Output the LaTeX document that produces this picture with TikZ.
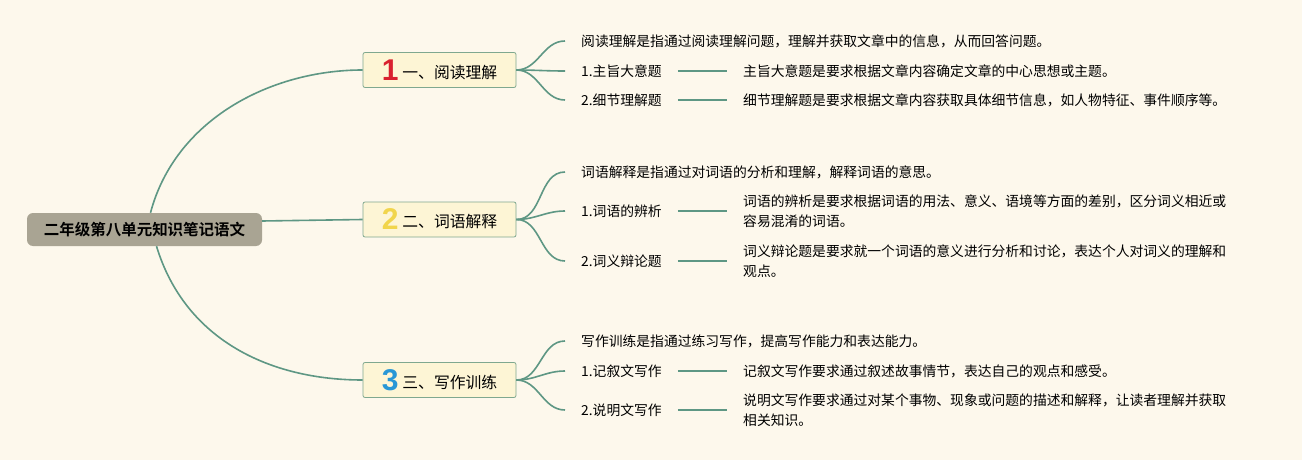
\documentclass[tikz,border=0pt]{standalone}
\usepackage{fontspec}
\setmainfont{Noto Sans CJK SC}[BoldFont={Noto Sans CJK SC Bold}]
\newfontfamily\numfont{Liberation Sans}[BoldFont={Liberation Sans Bold}]
\definecolor{bgcream}{HTML}{FDF8EC}
\definecolor{linkgreen}{HTML}{5E9784}
\definecolor{rootfill}{HTML}{A9A493}
\definecolor{boxfill}{HTML}{FDF5D5}
\definecolor{boxline}{HTML}{7FA88F}
\definecolor{numred}{HTML}{D9202E}
\definecolor{numyellow}{HTML}{F1D54C}
\definecolor{numblue}{HTML}{2897D6}
\tikzset{
    root/.style={fill=rootfill, rounded corners=6pt, minimum width=235pt, minimum height=33pt,
        inner sep=0pt, font=\fontsize{15.5}{18}\selectfont\bfseries},
    branchbox/.style={draw=boxline, line width=0.8pt, fill=boxfill, rounded corners=2pt,
        minimum width=153pt, minimum height=35pt, inner sep=0pt, font=\fontsize{15.8}{18}\selectfont},
    leaf/.style={anchor=west, inner xsep=16pt, inner ysep=0pt, align=left,
        font=\fontsize{13.8}{20}\selectfont},
    link/.style={draw=linkgreen, line width=1.6pt},
}
\begin{document}
\begin{tikzpicture}[x=1pt,y=-1pt]
\fill[bgcream] (0,0) rectangle (1302,460);
\useasboundingbox (0,0) rectangle (1302,460);

\node[root] (root) at (144.5,229.5) {二年级第八单元知识笔记语文};
\foreach \n/\y/\c/\lab in {1/70/numred/一、阅读理解,2/219.5/numyellow/二、词语解释,3/380/numblue/三、写作训练}{
    \node[branchbox] (b\n) at (439.5,\y) {\raisebox{-2pt}{\numfont\bfseries\fontsize{30}{30}\selectfont\color{\c}\n}\hspace{4pt}\lab};
}
\draw[link] ([xshift=6pt]root.north) .. controls (175,120) and (270,70) .. (b1.west);
\draw[link] ([yshift=8.5pt]root.east) -- (b2.west);
\draw[link] ([xshift=12pt]root.south) .. controls (185,340) and (270,380) .. (b3.west);

% 阅读理解
\node[leaf] (a0) at (565,41) {阅读理解是指通过阅读理解问题，理解并获取文章中的信息，从而回答问题。};
\node[leaf] (a1) at (565,71) {1.主旨大意题};
\node[leaf] (a2) at (565,100) {2.细节理解题};
\node[leaf] (a1d) at (727,71) {主旨大意题是要求根据文章内容确定文章的中心思想或主题。};
\node[leaf] (a2d) at (727,100) {细节理解题是要求根据文章内容获取具体细节信息，如人物特征、事件顺序等。};

% 词语解释
\node[leaf] (c0) at (565,172) {词语解释是指通过对词语的分析和理解，解释词语的意思。};
\node[leaf] (c1) at (565,211) {1.词语的辨析};
\node[leaf] (c2) at (565,261) {2.词义辩论题};
\node[leaf] (c1d) at (727,211) {词语的辨析是要求根据词语的用法、意义、语境等方面的差别，区分词义相近或\\容易混淆的词语。};
\node[leaf] (c2d) at (727,261) {词义辩论题是要求就一个词语的意义进行分析和讨论，表达个人对词义的理解和\\观点。};

% 写作训练
\node[leaf] (d0) at (565,341) {写作训练是指通过练习写作，提高写作能力和表达能力。};
\node[leaf] (d1) at (565,371) {1.记叙文写作};
\node[leaf] (d2) at (565,410) {2.说明文写作};
\node[leaf] (d1d) at (727,371) {记叙文写作要求通过叙述故事情节，表达自己的观点和感受。};
\node[leaf] (d2d) at (727,410) {说明文写作要求通过对某个事物、现象或问题的描述和解释，让读者理解并获取\\相关知识。};

\foreach \g/\b in {a/b1,c/b2,d/b3}{
    \foreach \k in {0,1,2}
        \draw[link] (\b.east) to[out=0,in=180] (\g\k.west);
    \foreach \k in {1,2}
        \draw[link] (\g\k.east) -- (\g\k d.west);
}
\end{tikzpicture}
\end{document}
